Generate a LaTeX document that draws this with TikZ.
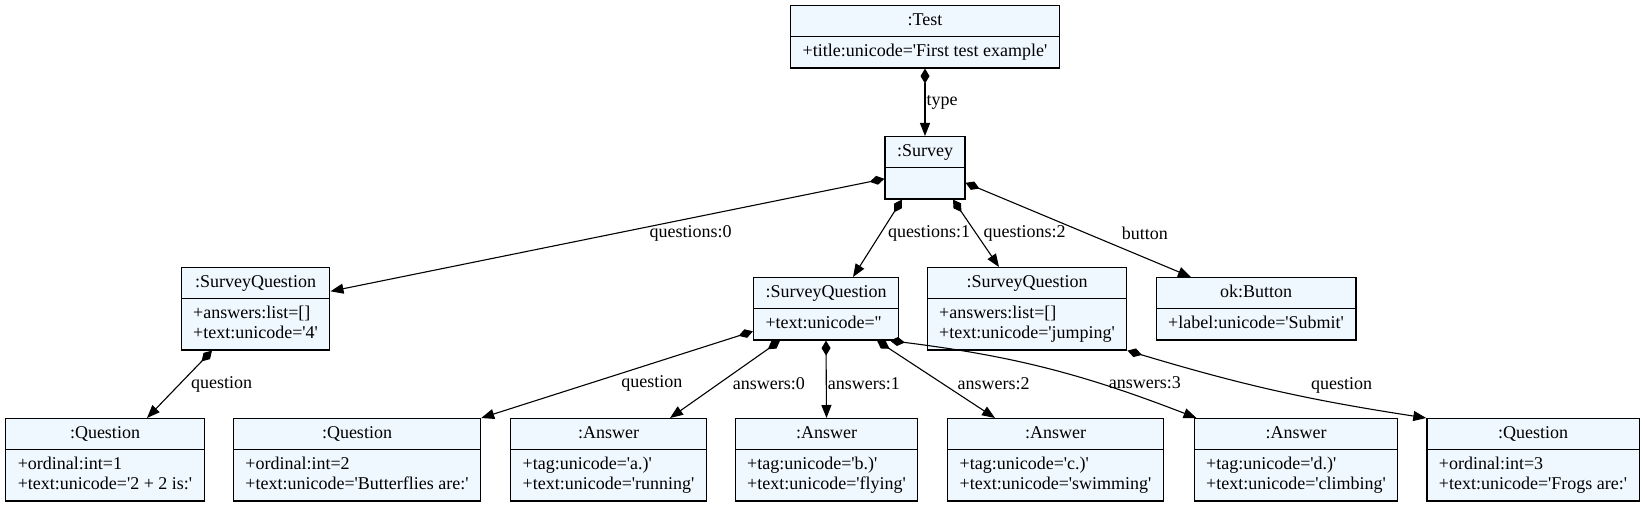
\documentclass[tikz,border=0pt]{standalone}
\usepackage{fontspec}
\setmainfont{Liberation Serif}[Ligatures=TeXOff]
\usetikzlibrary{shapes.multipart, arrows.meta}
\definecolor{aliceblue}{HTML}{F0F8FF}
\tikzset{
    obj/.style={rectangle split, rectangle split parts=2,
        rectangle split part align={center,left}, align=left,
        draw, fill=aliceblue, line width=1.2pt, anchor=north,
        inner xsep=12pt, inner ysep=5pt, font=\fontsize{18}{20}\selectfont},
    comp/.style={{Diamond[length=15pt,width=9pt]}-{Triangle[length=13pt,width=10pt]},
        line width=1.1pt},
    lbl/.style={font=\fontsize{18}{20}\selectfont, inner sep=1pt}
}
\begin{document}
\begin{tikzpicture}[x=1pt, y=-1pt]
    \useasboundingbox (0,0) rectangle (1645,505);

    % Test and survey
    \node[obj] (test) at (925,5) {\strut:Test \nodepart{two}\strut+title:unicode='First test example'};
    \node[obj] (survey) at (925,136) {\strut:Survey \nodepart{two}\strut};

    % Survey questions and button
    \node[obj] (sq0) at (255.5,267) {\strut:SurveyQuestion \nodepart{two}\strut+answers:list=[]\\\strut+text:unicode='4'};
    \node[obj] (sq1) at (826,277) {\strut:SurveyQuestion \nodepart{two}\strut+text:unicode=''};
    \node[obj] (sq2) at (1027,267) {\strut:SurveyQuestion \nodepart{two}\strut+answers:list=[]\\\strut+text:unicode='jumping'};
    \node[obj] (button) at (1256,277) {\strut ok:Button \nodepart{two}\strut+label:unicode='Submit'};

    % Questions and answers
    \node[obj] (q1) at (105,418) {\strut:Question \nodepart{two}\strut+ordinal:int=1\\\strut+text:unicode='2 + 2 is:'};
    \node[obj] (q2) at (357,418) {\strut:Question \nodepart{two}\strut+ordinal:int=2\\\strut+text:unicode='Butterflies are:'};
    \node[obj] (a0) at (608.5,418) {\strut:Answer \nodepart{two}\strut+tag:unicode='a.)'\\\strut+text:unicode='running'};
    \node[obj] (a1) at (826.5,418) {\strut:Answer \nodepart{two}\strut+tag:unicode='b.)'\\\strut+text:unicode='flying'};
    \node[obj] (a2) at (1055.5,418) {\strut:Answer \nodepart{two}\strut+tag:unicode='c.)'\\\strut+text:unicode='swimming'};
    \node[obj] (a3) at (1296,418) {\strut:Answer \nodepart{two}\strut+tag:unicode='d.)'\\\strut+text:unicode='climbing'};
    \node[obj] (q3) at (1533,418) {\strut:Question \nodepart{two}\strut+ordinal:int=3\\\strut+text:unicode='Frogs are:'};

    % Edges from test and survey
    \draw[comp] (test.south) -- node[lbl, midway, right=0pt] {type} (survey.north);
    \draw[comp] ([yshift=-11pt]survey.west) -- node[lbl, pos=0.35, below=6pt] {questions:0} ([yshift=17.5pt]sq0.east);
    \draw[comp] ([xshift=-23pt]survey.south) -- node[lbl, pos=0.44, right=6pt] {questions:1} ([xshift=27pt]sq1.north);
    \draw[comp] ([xshift=28pt]survey.south) -- node[lbl, pos=0.5, right=6pt] {questions:2} ([xshift=-28pt]sq2.north);
    \draw[comp] ([yshift=-15pt]survey.east) -- node[lbl, pos=0.54, right=33pt] {button} ([xshift=-65pt]button.north);

    % Edges from survey questions
    \draw[comp] ([xshift=-43.5pt]sq0.south) -- node[lbl, pos=0.5, right=10pt] {question} ([xshift=42pt]q1.north);
    \draw[comp] ([yshift=-22.5pt]sq1.west) -- node[lbl, pos=0.6, right=30pt] {question} (q2.north east);
    \draw[comp] ([xshift=-46pt]sq1.south) -- node[lbl, pos=0.56, right=13pt] {answers:0} ([xshift=61.5pt]a0.north);
    \draw[comp] (sq1.south) -- node[lbl, pos=0.56, right=0pt] {answers:1} (a1.north);
    \draw[comp] ([xshift=51pt]sq1.south) -- node[lbl, pos=0.56, right=13pt] {answers:2} ([xshift=-60.5pt]a2.north);
    \draw[comp] ([xshift=64pt]sq1.south) to[bend left=7] node[lbl, pos=0.66, right=16pt, yshift=-2pt] {answers:3} ([xshift=3pt]a3.north west);
    \draw[comp] (sq2.south east) to[bend right=4] node[lbl, pos=0.5, right=34pt, yshift=5pt] {question} (q3.north west);

\end{tikzpicture}
\end{document}
